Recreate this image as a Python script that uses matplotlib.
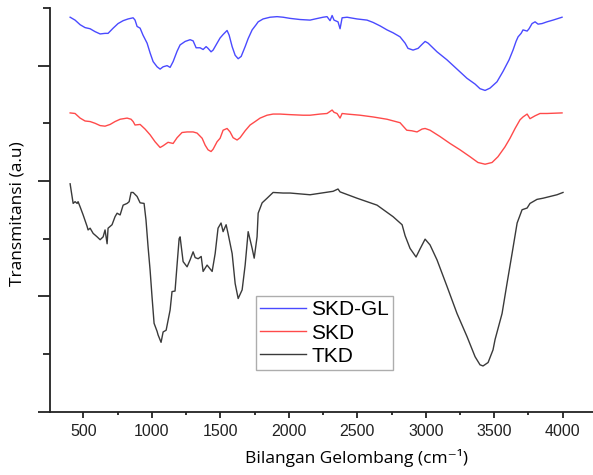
import numpy as np
import matplotlib
matplotlib.use("Agg")
from matplotlib import pyplot as plt
from matplotlib.ticker import MultipleLocator

# SKD-GL spectrum (wavenumber, transmittance a.u. with offset)
wn_gl = [403, 439, 476, 512, 549, 585, 622, 658, 680, 717, 753, 790, 826, 863, 877, 892,
         914, 935, 965, 987, 1009, 1038, 1060, 1082, 1111, 1133, 1155, 1184, 1206, 1243,
         1279, 1301, 1323, 1352, 1374, 1396, 1410, 1432, 1447, 1476, 1498, 1520, 1549,
         1564, 1586, 1608, 1630, 1652, 1681, 1703, 1732, 1761, 1776, 1812, 1863, 1914,
         1958, 2009, 2082, 2155, 2192, 2250, 2279, 2301, 2316, 2330, 2359, 2374, 2389,
         2425, 2498, 2571, 2615, 2666, 2717, 2761, 2812, 2849, 2870, 2907, 2944, 2973,
         2995, 3017, 3082, 3155, 3228, 3301, 3360, 3396, 3433, 3469, 3520, 3564, 3608,
         3637, 3659, 3674, 3696, 3710, 3740, 3754, 3776, 3798, 3820, 3849, 3885, 3929, 3995]
t_gl = [68.4, 67.9, 67.1, 66.6, 66.4, 65.9, 65.5, 65.6, 65.6, 66.5, 67.3, 67.8, 68.1, 68.3,
        67.9, 66.8, 66.5, 65.3, 63.9, 62.2, 60.7, 59.8, 59.4, 59.8, 60.0, 59.7, 60.7, 62.5,
        63.6, 64.2, 64.5, 64.3, 63.1, 63.1, 62.8, 63.3, 63.0, 62.4, 62.7, 63.9, 64.8, 65.4,
        66.1, 65.3, 63.3, 61.8, 61.2, 61.6, 63.3, 64.7, 66.2, 67.1, 67.6, 68.1, 68.4, 68.5,
        68.4, 68.2, 68.0, 67.9, 68.1, 68.4, 68.5, 67.8, 68.7, 67.9, 67.6, 66.4, 68.3, 68.4,
        68.1, 67.9, 67.5, 66.9, 66.2, 65.7, 65.0, 63.9, 63.0, 62.7, 63.0, 63.7, 64.2, 63.9,
        62.4, 61.0, 59.4, 57.8, 56.8, 56.0, 55.7, 56.1, 57.2, 59.0, 61.0, 62.7, 64.2, 65.0,
        65.6, 66.2, 66.0, 66.4, 67.3, 67.6, 67.2, 67.3, 67.6, 67.9, 68.4]

# SKD spectrum
wn_skd = [403, 439, 476, 512, 549, 585, 622, 658, 695, 731, 768, 819, 848, 863, 877, 914,
          950, 987, 1023, 1060, 1082, 1118, 1155, 1184, 1220, 1257, 1301, 1330, 1367, 1389,
          1410, 1432, 1447, 1476, 1498, 1520, 1549, 1571, 1593, 1622, 1644, 1681, 1717,
          1754, 1790, 1841, 1885, 1936, 2009, 2104, 2155, 2228, 2279, 2316, 2330, 2352,
          2374, 2389, 2425, 2520, 2615, 2717, 2812, 2861, 2898, 2936, 2973, 2995, 3031,
          3104, 3177, 3250, 3323, 3381, 3433, 3484, 3527, 3578, 3615, 3652, 3688, 3710,
          3740, 3761, 3798, 3834, 3885, 3995]
t_skd = [51.8, 51.7, 50.9, 50.4, 50.3, 50.0, 49.6, 49.5, 49.8, 50.3, 50.7, 50.9, 50.7, 50.3,
         49.7, 49.8, 49.0, 48.0, 46.8, 45.8, 46.1, 46.7, 46.5, 47.5, 48.4, 48.5, 48.5, 48.3,
         47.4, 46.2, 45.4, 45.1, 45.5, 46.8, 47.4, 48.8, 49.1, 48.5, 47.5, 47.1, 47.5, 48.7,
         49.7, 50.3, 50.9, 51.4, 51.6, 51.6, 51.5, 51.4, 51.4, 51.6, 51.7, 52.3, 51.9, 51.7,
         50.9, 51.7, 51.6, 51.4, 51.1, 50.7, 50.1, 48.8, 48.7, 48.5, 49.0, 49.1, 48.8, 47.7,
         46.5, 45.4, 44.2, 43.2, 42.9, 43.2, 44.2, 45.9, 47.4, 49.1, 50.6, 51.1, 51.6, 50.8,
         51.3, 51.7, 51.7, 51.8]

# TKD spectrum
wn_tkd = [403, 410, 425, 439, 454, 461, 476, 498, 527, 534, 549, 571, 600, 622, 644, 658,
          673, 680, 709, 731, 746, 768, 790, 819, 834, 848, 863, 892, 914, 943, 957, 972,
          987, 1001, 1016, 1038, 1045, 1067, 1082, 1104, 1133, 1147, 1169, 1184, 1199, 1206,
          1228, 1257, 1279, 1301, 1316, 1338, 1360, 1374, 1403, 1440, 1462, 1483, 1505,
          1520, 1542, 1556, 1586, 1608, 1630, 1659, 1681, 1703, 1732, 1747, 1768, 1776,
          1805, 1841, 1885, 1958, 2009, 2155, 2323, 2359, 2374, 2498, 2644, 2761, 2827,
          2849, 2885, 2929, 2958, 2995, 3031, 3082, 3155, 3228, 3301, 3360, 3396, 3418,
          3455, 3491, 3506, 3557, 3593, 3630, 3667, 3703, 3740, 3761, 3812, 3856, 3907,
          3958, 4002]
t_tkd = [39.5, 38.4, 36.1, 36.4, 36.1, 36.4, 35.5, 34.1, 32.1, 31.5, 31.8, 30.9, 30.3, 29.8,
         30.3, 31.5, 29.1, 31.8, 32.4, 33.8, 34.4, 34.1, 35.8, 36.1, 36.4, 38.0, 38.0, 37.3,
         36.2, 36.1, 33.2, 28.6, 24.5, 19.9, 15.3, 13.9, 13.3, 12.0, 13.8, 14.1, 17.6, 20.8,
         20.9, 25.5, 30.0, 30.3, 26.0, 25.1, 26.3, 27.7, 26.7, 26.5, 26.9, 24.3, 25.4, 24.3,
         27.4, 31.8, 32.7, 31.2, 32.4, 30.9, 27.4, 22.2, 19.6, 21.1, 25.4, 31.2, 28.3, 26.6,
         30.3, 34.4, 36.2, 37.0, 38.0, 37.9, 37.9, 37.6, 38.2, 38.6, 38.1, 37.0, 35.8, 33.8,
         32.4, 30.5, 28.3, 26.8, 28.2, 29.9, 28.9, 26.3, 21.7, 17.0, 13.0, 9.5, 8.1, 7.9,
         8.5, 10.7, 12.5, 17.0, 22.2, 27.4, 32.7, 35.0, 35.3, 36.1, 36.8, 37.0, 37.3, 37.6,
         38.0]

fig = plt.figure(figsize=(5.93, 4.75), dpi=100)
ax = fig.add_axes([50/593, 63.5/475, 543/593, 403.5/475])

ax.plot(wn_gl, t_gl, color='#4a4aff', lw=1.0, label='SKD-GL')
ax.plot(wn_skd, t_skd, color='#ff4a4a', lw=1.0, label='SKD')
ax.plot(wn_tkd, t_tkd, color='#3a3a3a', lw=1.0, label='TKD')

ax.set_xlim(256, 4221)
ax.set_ylim(0, 70)
ax.xaxis.set_major_locator(MultipleLocator(500))
ax.xaxis.set_minor_locator(MultipleLocator(250))
ax.yaxis.set_major_locator(MultipleLocator(20))
ax.yaxis.set_minor_locator(MultipleLocator(10))
ax.set_yticklabels([])
ax.tick_params(axis='y', which='major', length=9, width=1.3, direction='out', color='#222222')
ax.tick_params(axis='y', which='minor', length=5, width=1.3, direction='out', color='#222222')
ax.tick_params(axis='x', which='major', length=4, width=1.3, direction='out', color='#222222', pad=5)
ax.tick_params(axis='x', which='minor', length=2, width=1.3, direction='out', color='#222222')
for lab in ax.get_xticklabels():
    lab.set_family('Liberation Sans')
    lab.set_fontsize(11.5)
    lab.set_color('#222222')

for s in ['top', 'right']:
    ax.spines[s].set_visible(False)
for s in ['left', 'bottom']:
    ax.spines[s].set_linewidth(1.3)
    ax.spines[s].set_color('#222222')

ax.set_xlabel('Bilangan Gelombang (cm⁻¹)', family=['Open Sans', 'DejaVu Sans'], fontsize=12.5)
ax.set_ylabel('Transmitansi (a.u)', family=['Open Sans', 'DejaVu Sans'], fontsize=12.5)
ax.xaxis.set_label_coords(0.565, -0.092)
ax.yaxis.set_label_coords(-0.046, 0.49)

leg = ax.legend(loc='lower left', bbox_to_anchor=(0.379, 0.103), prop={'family': 'Liberation Sans', 'size': 15},
                frameon=True, fancybox=False, edgecolor='#999999', handlelength=2.2, handletextpad=0.25,
                labelspacing=0.2, borderpad=0.2, borderaxespad=0)
leg.get_frame().set_linewidth(1.0)

fig.savefig('out.png', dpi=100)
